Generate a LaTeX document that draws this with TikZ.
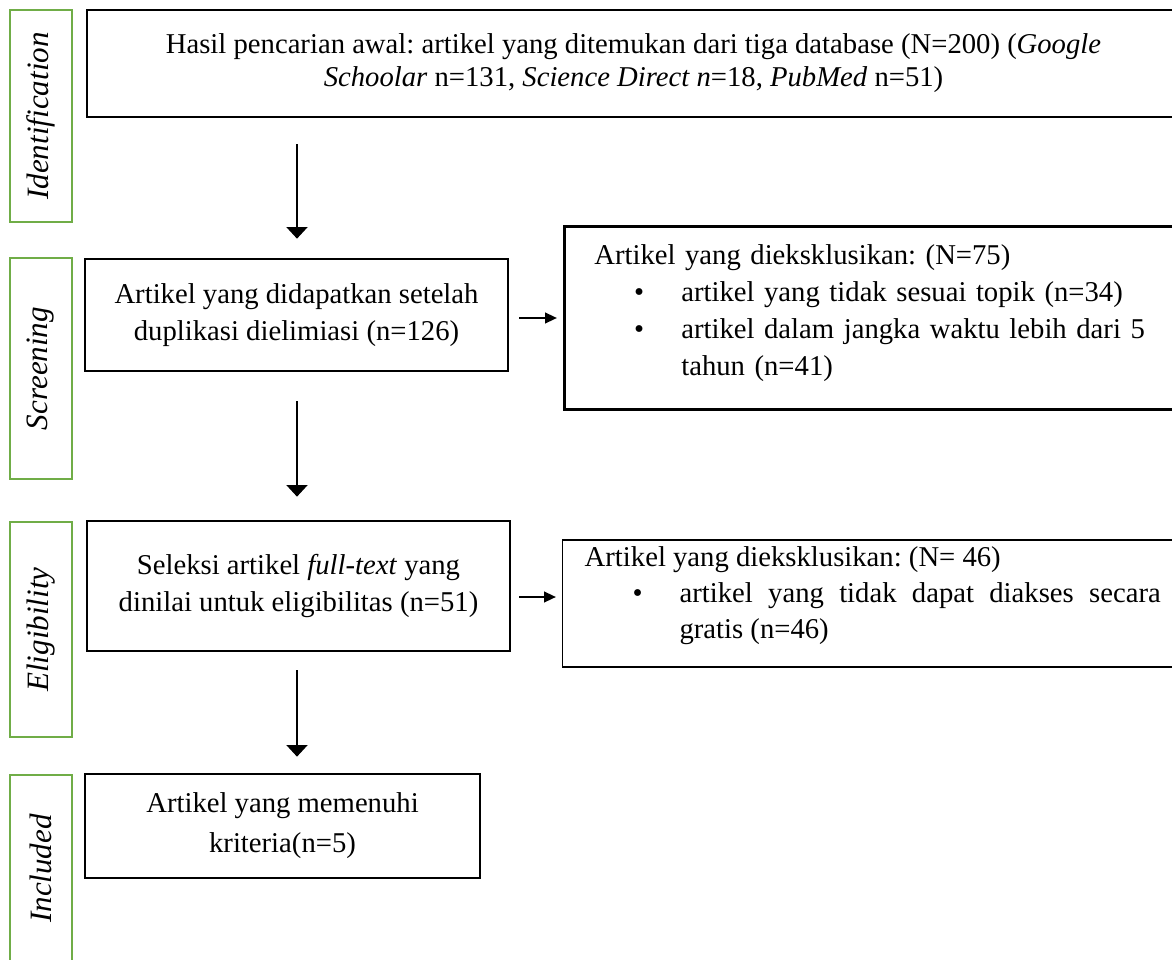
\documentclass[tikz,border=0pt]{standalone}
\usepackage{fontspec}
\setmainfont{Liberation Serif}
\usetikzlibrary{arrows.meta,positioning}
\definecolor{stagegreen}{RGB}{112,173,71}
\newcommand{\px}{0.4184pt}
\newcommand{\exitem}[3]{\par\noindent\hangindent=#2\hspace*{#1}\makebox[\dimexpr#2-#1\relax][l]{\textbullet}#3\par}
\hyphenpenalty=10000
\exhyphenpenalty=10000
\tolerance=9999
\frenchspacing

\begin{document}
\begin{tikzpicture}[x=\px, y=-\px, thick]

	\tikzstyle{stage}=[rectangle, draw=stagegreen, line width=1.2pt, rotate=90, inner sep=0pt, minimum height=62*\px, font=\fontsize{13}{15}\selectfont\itshape]
	\tikzstyle{box}=[rectangle, draw, line width=1.1pt, inner sep=0pt, align=center]
	\tikzstyle{excl}=[rectangle, draw, inner ysep=0pt, anchor=west]
	\tikzstyle{flow}=[-{Triangle[length=4.8pt, width=8.6pt]}, line width=1pt]
	\tikzstyle{side}=[-{Triangle[length=5pt, width=4.4pt]}, line width=1pt]

	\useasboundingbox (0,0) rectangle (1172,960);
	\clip (0,0) rectangle (1172,960);

	% stages
	\node[stage, minimum width=212*\px] (idst) at (41,116) {Identification};
	\node[stage, minimum width=221*\px] (scst) at (41,368.5) {Screening};
	\node[stage, minimum width=215*\px] (elst) at (41,629.5) {Eligibility};
	\node[stage, minimum width=187*\px] (inst) at (41,868.5) {Included};

	% main boxes
	\node[box, minimum width=1093*\px, minimum height=107*\px, font=\fontsize{12}{13.8}\selectfont] (idbox) at (633.5,63.5)
		{Hasil pencarian awal: artikel yang ditemukan dari tiga database (N=200) (\textit{Google}\\
		\textit{Schoolar} n=131, \textit{Science Direct n}=18, \textit{PubMed} n=51)};
	\node[box, minimum width=423*\px, minimum height=112*\px, font=\fontsize{12}{15.5}\selectfont] (scr) at (296.5,315)
		{Artikel yang didapatkan setelah\\ duplikasi dielimiasi (n=126)};
	\node[box, minimum width=423*\px, minimum height=130*\px, font=\fontsize{12}{15.5}\selectfont] (elig) at (298.5,586)
		{Seleksi artikel \textit{full-text} yang\\ dinilai untuk eligibilitas (n=51)};
	\node[box, minimum width=395*\px, minimum height=104*\px, font=\fontsize{12}{16.7}\selectfont] (incl) at (282.5,826)
		{Artikel yang memenuhi\\ kriteria(n=5)};

	% excluded
	\node[excl, line width=1.1pt, align=left, text width=239.3pt, inner xsep=30*\px, minimum height=183*\px, font=\fontsize{12}{15.5}\selectfont] (excl1) at (563,318)
		{\raggedright Artikel yang dieksklusikan: (N=75)
		\exitem{16.7pt}{36.4pt}{artikel yang tidak sesuai topik (n=34)}
		\exitem{16.7pt}{36.4pt}{artikel dalam jangka waktu lebih dari 5 tahun (n=41)}\kern4.2pt};
	\node[excl, line width=0.6pt, align=justify, text width=241pt, inner xsep=22*\px, minimum height=127*\px, font=\fontsize{12}{15}\selectfont] (excl2) at (562,603.5)
		{Artikel yang dieksklusikan: (N= 46)
		\exitem{20pt}{39.7pt}{artikel yang tidak dapat diakses secara gratis (n=46)}\kern6.7pt};

	% arrows
	\coordinate (axis) at (297,0);
	\draw[flow, shorten <=26*\px, shorten >=19*\px] (idbox.south -| axis) -- (scr.north -| axis);
	\draw[flow, shorten <=29*\px, shorten >=23*\px] (scr.south -| axis) -- (elig.north -| axis);
	\draw[flow, shorten <=18*\px, shorten >=16*\px] (elig.south -| axis) -- (incl.north -| axis);

	\coordinate (s1) at ([yshift=-3*\px]scr.east);
	\coordinate (s2) at ([yshift=-11*\px]elig.east);
	\draw[side, shorten <=10*\px, shorten >=6*\px] (s1) -- (s1 -| excl1.west);
	\draw[side, shorten <=8*\px, shorten >=6*\px] (s2) -- (s2 -| excl2.west);

\end{tikzpicture}
\end{document}
